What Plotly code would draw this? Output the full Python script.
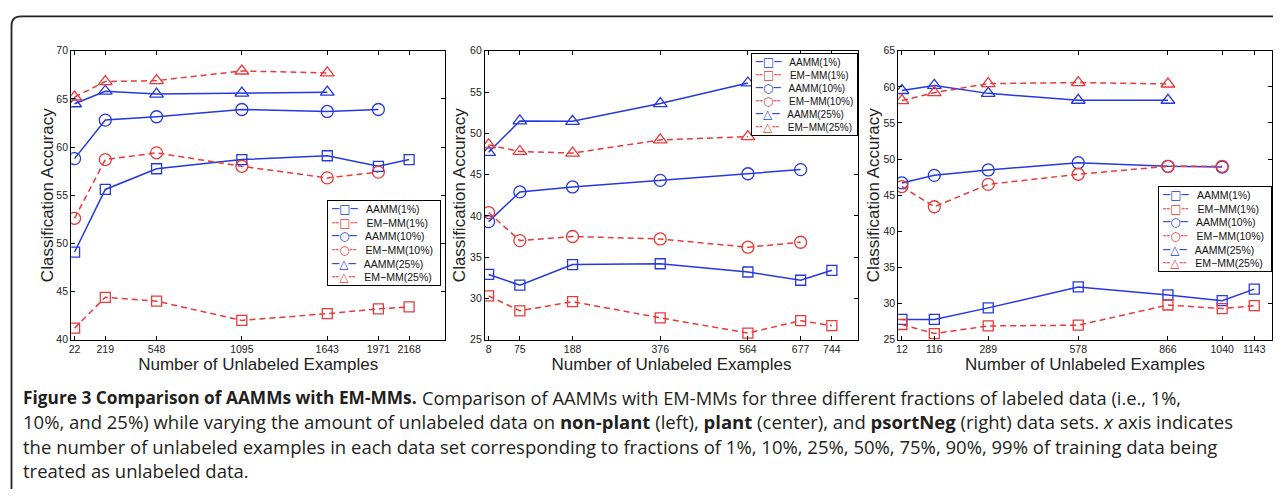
import plotly.graph_objects as go

# ---------------- data ----------------
series_names = ["AAMM(1%)", "EM\u2212MM(1%)", "AAMM(10%)", "EM\u2212MM(10%)", "AAMM(25%)", "EM\u2212MM(25%)"]

# non-plant (left)
x_nonplant = [22, 219, 548, 1095, 1643, 1971, 2168]
np_aamm1 = [49.1, 55.6, 57.75, 58.7, 59.1, 58.0, 58.7]
np_emmm1 = [41.2, 44.4, 44.0, 42.0, 42.7, 43.2, 43.4]
np_aamm10 = [58.8, 62.8, 63.15, 63.9, 63.7, 63.9]
np_emmm10 = [52.6, 58.7, 59.4, 58.0, 56.8, 57.4]
np_aamm25 = [64.5, 65.8, 65.5, 65.6, 65.7]
np_emmm25 = [65.2, 66.8, 66.9, 67.9, 67.7]

# plant (center)
x_plant = [8, 75, 188, 376, 564, 677, 744]
pl_aamm1 = [32.9, 31.6, 34.1, 34.2, 33.2, 32.2, 33.4]
pl_emmm1 = [30.3, 28.5, 29.6, 27.65, 25.8, 27.3, 26.7]
pl_aamm10 = [39.3, 42.9, 43.5, 44.3, 45.1, 45.6]
pl_emmm10 = [40.4, 37.0, 37.5, 37.2, 36.2, 36.8]
pl_aamm25 = [47.7, 51.5, 51.45, 53.6, 56.1]
pl_emmm25 = [48.6, 47.8, 47.6, 49.2, 49.6]

# psortNeg (right)
x_psort = [12, 116, 289, 578, 866, 1040, 1143]
ps_aamm1 = [27.8, 27.8, 29.4, 32.3, 31.2, 30.4, 32.0]
ps_emmm1 = [27.1, 25.85, 26.9, 27.0, 29.8, 29.3, 29.7]
ps_aamm10 = [46.7, 47.75, 48.5, 49.5, 49.0, 48.9]
ps_emmm10 = [46.2, 43.4, 46.5, 47.9, 49.0, 49.0]
ps_aamm25 = [59.5, 60.2, 59.1, 58.15, 58.15]
ps_emmm25 = [58.1, 59.2, 60.45, 60.6, 60.4]

caption_head = "<b>Figure 3 Comparison of AAMMs with EM-MMs.</b>"
caption_lines = [
    "Comparison of AAMMs with EM-MMs for three different fractions of labeled data (i.e., 1%,",
    "10%, and 25%) while varying the amount of unlabeled data on <b>non-plant</b> (left), <b>plant</b> (center), and <b>psortNeg</b> (right) data sets. <i>x</i> axis indicates",
    "the number of unlabeled examples in each data set corresponding to fractions of 1%, 10%, 25%, 50%, 75%, 90%, 99% of training data being",
    "treated as unlabeled data.",
]
x_title = "Number of Unlabeled Examples"
y_title = "Classification Accuracy"

# ---------------- styling ----------------
PAGE_W, PAGE_H = 1281, 497
OFF = 8  # default body margin of the page
W, H = PAGE_W - 2 * OFF, PAGE_H - 2 * OFF
BLUE = "#2538e0"
RED = "#e83a3a"
FONT = "Liberation Sans, Arial, sans-serif"
CAP_FONT = "Open Sans, sans-serif"
DASH = "6px,4px"
styles = [
    dict(color=BLUE, dash="solid", symbol="square-open", size=10, glyph="\u25a1"),
    dict(color=RED, dash=DASH, symbol="square-open", size=10, glyph="\u25a1"),
    dict(color=BLUE, dash="solid", symbol="circle-open", size=12, glyph="\u25cb"),
    dict(color=RED, dash=DASH, symbol="circle-open", size=12, glyph="\u25cb"),
    dict(color=BLUE, dash="solid", symbol="triangle-up-open", size=12, glyph="\u25b3"),
    dict(color=RED, dash=DASH, symbol="triangle-up-open", size=12, glyph="\u25b3"),
]


def px(x):
    """page pixel x -> paper fraction"""
    return (x - OFF) / W


def py(y):
    """page pixel y -> paper fraction"""
    return 1 - (y - OFF) / H


panels = [
    dict(x=x_nonplant, ys=[np_aamm1, np_emmm1, np_aamm10, np_emmm10, np_aamm25, np_emmm25],
         xr=[0, 2400], yr=[40, 70], dom=(69.3, 444.3), leg=(440, 199), ytx=45, lfs=10.5, tail=2),
    dict(x=x_plant, ys=[pl_aamm1, pl_emmm1, pl_aamm10, pl_emmm10, pl_aamm25, pl_emmm25],
         xr=[0, 800], yr=[25, 60], dom=(484, 858), leg=(858, 48), ytx=458, lfs=10, tail=1),
    dict(x=x_psort, ys=[ps_aamm1, ps_emmm1, ps_aamm10, ps_emmm10, ps_aamm25, ps_emmm25],
         xr=[0, 1200], yr=[25, 65], dom=(898.3, 1273), leg=(1273, 184), ytx=873, lfs=10.5, tail=2),
]

TOP, BOTTOM = 45.7, 342.0

fig = go.Figure()
annotations = []
for i, p in enumerate(panels):
    sfx = "" if i == 0 else str(i + 1)
    for name, vals, st in zip(series_names, p["ys"], styles):
        fig.add_trace(go.Scatter(
            x=p["x"][:len(vals)], y=vals, name=name, mode="lines+markers",
            xaxis="x" + sfx, yaxis="y" + sfx, showlegend=False,
            line=dict(color=st["color"], width=1.5, dash=st["dash"]),
            marker=dict(symbol=st["symbol"], size=st["size"], color=st["color"],
                        line=dict(width=1.3, color=st["color"])),
        ))
    axis_common = dict(showline=True, linecolor="black", linewidth=1, mirror="ticks",
                       ticks="inside", ticklen=4, tickcolor="black", showgrid=False,
                       zeroline=False, tickfont=dict(family=FONT, size=10.5, color="#222"))
    fig.update_layout(**{
        "xaxis" + sfx: dict(axis_common, domain=[px(p["dom"][0]), px(p["dom"][1])],
                            range=p["xr"], tickvals=p["x"], anchor="y" + sfx,
                            title=dict(text=x_title, standoff=0,
                                       font=dict(family=FONT, size=17, color="#222"))),
        "yaxis" + sfx: dict(axis_common, domain=[py(BOTTOM), py(TOP)], range=p["yr"],
                            dtick=5, tick0=0, anchor="x" + sfx),
    })
    annotations.append(dict(
        text=y_title, xref="paper", yref="paper", x=px(p["ytx"]), y=py((TOP + BOTTOM) / 2),
        xanchor="center", yanchor="middle", textangle=-90, showarrow=False,
        font=dict(family=FONT, size=17, color="#222"),
    ))
    # compact legend box built from the series names and styles
    rows = []
    for name, st in zip(series_names, styles):
        bar = "\u2500" if st["dash"] == "solid" else "\u254c"
        rows.append(f'\u00a0<span style="color:{st["color"]};font-family:DejaVu Sans;font-size:12px">'
                    f'{bar}{st["glyph"]}{bar}</span>\u00a0\u00a0 {name}' + "\u00a0" * p["tail"])
    annotations.append(dict(
        text="<br>".join(rows), xref="paper", yref="paper",
        x=px(p["leg"][0]), y=py(p["leg"][1]), xanchor="right", yanchor="top",
        align="left", showarrow=False, bgcolor="white", bordercolor="black",
        borderwidth=1, borderpad=1, font=dict(family=FONT, size=p["lfs"], color="#111"),
    ))

# caption: bold heading, then the body lines (kept inside the figure, no overlap)
cap_y = [401.0, 426.2, 451.3, 476.4]
annotations.append(dict(
    text=caption_head, xref="paper", yref="paper", x=px(20), y=py(cap_y[0]),
    xanchor="left", yanchor="middle", showarrow=False, align="left", borderpad=0,
    font=dict(family=CAP_FONT, size=17.3, color="#231f20"),
))
cap_x = [420, 20, 20, 20]
cap_size = [18.3, 18.5, 18.5, 18.5]
for line, yy, xx, fs in zip(caption_lines, cap_y, cap_x, cap_size):
    annotations.append(dict(
        text=line, xref="paper", yref="paper", x=px(xx), y=py(yy),
        xanchor="left", yanchor="middle", showarrow=False, align="left", borderpad=0,
        font=dict(family=CAP_FONT, size=fs, color="#231f20"),
    ))

frame_path = (f"M {px(9.5)},{py(497)} L {px(9.5)},{py(20)} "
              f"Q {px(9.5)},{py(10.5)} {px(19)},{py(10.5)} L {px(1281)},{py(10.5)}")

fig.update_layout(
    width=W, height=H, autosize=False,
    margin=dict(l=0, r=0, t=0, b=0),
    paper_bgcolor="white", plot_bgcolor="white",
    annotations=annotations,
    shapes=[dict(type="path", path=frame_path, xref="paper", yref="paper",
                 line=dict(color="#222", width=1.8))],
    font=dict(family=FONT),
)

fig.write_html("out.html")
